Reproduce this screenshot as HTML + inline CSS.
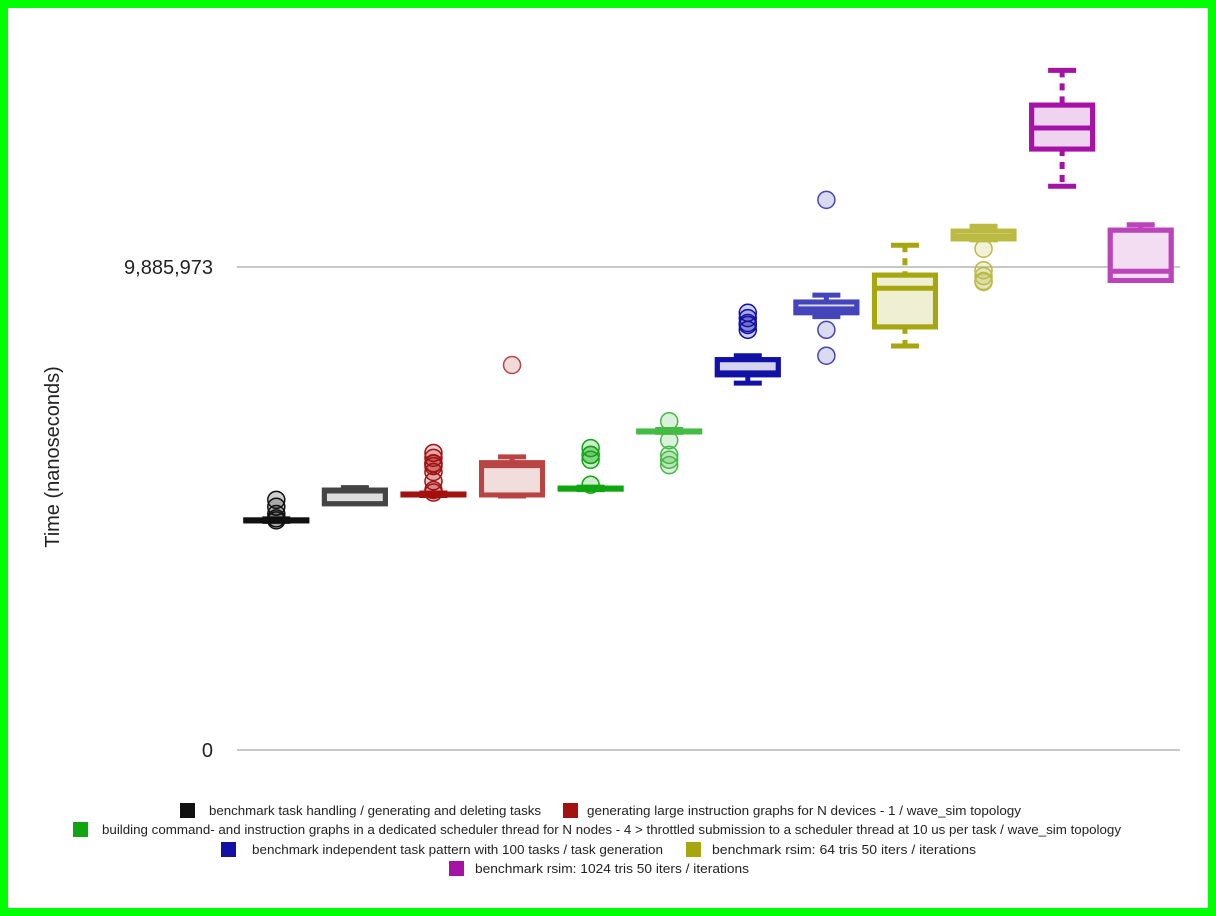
<!DOCTYPE html>
<html><head><meta charset="utf-8"><style>
html,body{margin:0;padding:0;background:#fff}
svg{display:block;font-family:"Liberation Sans",sans-serif}
</style></head><body>
<svg id="chart" width="1216" height="916" viewBox="0 0 1216 916">
<rect x="4" y="4" width="1208" height="908" fill="#fff" stroke="#00ff00" stroke-width="8"/>
<line x1="237" y1="267" x2="1180" y2="267" stroke="#b5b5b5" stroke-width="1.5"/>
<line x1="237" y1="750" x2="1180" y2="750" stroke="#b5b5b5" stroke-width="1.5"/>
<text x="213" y="274" text-anchor="end" font-size="20" fill="#222">9,885,973</text>
<text x="213" y="757" text-anchor="end" font-size="20" fill="#222">0</text>
<text transform="translate(59,457) rotate(-90)" text-anchor="middle" font-size="20" fill="#222">Time (nanoseconds)</text>
<g id="marks"></g>
<g id="legend"></g>
</svg>
<script>
const K = 20468; // ns per pixel at reading
const categories = ["s0","s1","s2","s3","s4","s5","s6","s7","s8","s9","s10","s11"];
const colors = ["#111111","#444444","#a31111","#b94444","#11a611","#44bb44","#1111a6","#4444bb","#a6a611","#bbbb44","#a611a6","#bb44bb"];
const whiskerLow = [4680000,5080000,5210000,5200000,5330000,6500000,7510000,8870000,8270000,10440000,11540000,9610000];
const q1Values   = [4690000,5040000,5220000,5220000,5340000,6510000,7680000,8950000,8660000,10460000,12300000,9610000];
const medianValues=[4700000,5300000,5230000,5820000,5350000,6520000,7720000,9030000,9450000,10510000,12730000,9800000];
const q3Values   = [4710000,5320000,5240000,5880000,5360000,6530000,7990000,9170000,9720000,10620000,13200000,10640000];
const whiskerHigh= [4730000,5370000,5260000,6000000,5380000,6560000,8070000,9310000,10330000,10720000,13910000,10750000];
const outliers = [
  [5120000,4980000,4830000,4740000,4700000],
  [],
  [6080000,5980000,5870000,5810000,5690000,5500000,5320000,5270000,5860000],
  [7880000],
  [6180000,6040000,6040000,5940000,5430000],
  [6730000,6340000,6040000,5940000,5830000],
  [8950000,8840000,8740000,8600000,8700000],
  [11260000,8600000,8070000],
  [],
  [10260000,9820000,9700000,9580000,9600000],
  [],
  []
];
const dashed = [false,false,false,false,false,false,false,false,true,false,true,false];
const legendLabels = ["benchmark task handling / generating and deleting tasks","generating large instruction graphs for N devices - 1 / wave_sim topology","building command- and instruction graphs in a dedicated scheduler thread for N nodes - 4 > throttled submission to a scheduler thread at 10 us per task / wave_sim topology","benchmark independent task pattern with  100 tasks / task generation","benchmark rsim:  64 tris  50 iters / iterations","benchmark rsim: 1024 tris  50 iters / iterations"];
const legendColors = ["#111111","#a31111","#11a611","#1111a6","#a6a611","#a611a6"];

const NS="http://www.w3.org/2000/svg";
const y0=750, y1=267, vmax=9885973;
function yScale(v){return y0-(v/vmax)*(y0-y1);}
function xScale(i){return 237+(i+0.5)*(943/categories.length);}
function mk(tag,attrs,parent){const e=document.createElementNS(NS,tag);for(const k in attrs)e.setAttribute(k,attrs[k]);parent.appendChild(e);return e;}
const marks=document.getElementById('marks');
categories.forEach((c,i)=>{
  const g=mk('g',{},marks);
  
  
  const cx=xScale(i), col=colors[i], bw=61, cw=28;
  const yl=yScale(whiskerLow[i]), yh=yScale(whiskerHigh[i]), yq1=yScale(q1Values[i]), yq3=yScale(q3Values[i]), ym=yScale(medianValues[i]);
  const wa={stroke:col,'stroke-width':5};
  if(dashed[i]) wa['stroke-dasharray']='7,6';
  const w1=mk('line',Object.assign({x1:cx,x2:cx,y1:yh,y2:yq3},wa),g);
  
  
  const w2=mk('line',Object.assign({x1:cx,x2:cx,y1:yq1,y2:yl},wa),g);
  
  
  const c1=mk('line',{x1:cx-cw/2,x2:cx+cw/2,y1:yh,y2:yh,stroke:col,'stroke-width':5},g);
  
  
  const c2=mk('line',{x1:cx-cw/2,x2:cx+cw/2,y1:yl,y2:yl,stroke:col,'stroke-width':5},g);
  
  
  const bg=mk('rect',{x:cx-bw/2,y:yq3,width:bw,height:Math.max(yq1-yq3,0.5),fill:'#fff',stroke:col,'stroke-width':5},g);
  const r=mk('rect',{x:cx-bw/2,y:yq3,width:bw,height:Math.max(yq1-yq3,0.5),fill:col,'fill-opacity':0.18,stroke:col,'stroke-width':5},g);
  
  
  const m=mk('line',{x1:cx-bw/2,x2:cx+bw/2,y1:ym,y2:ym,stroke:col,'stroke-width':5},g);
  
  
  outliers[i].forEach(v=>{
    const o=mk('circle',{cx:cx,cy:yScale(v),r:8.5,fill:col,'fill-opacity':0.2,stroke:col,'stroke-width':1.5},g);
    
    
  });
});
const legend=document.getElementById('legend');
const rows=[[0,1],[2],[3,4],[5]];
const rowY=[810,829,849,868];
const sqX=[[180,563],[73],[221,686],[449]];
const txX=[[209,587],[102],[252,712],[475]];
const txW=[[332,434],[1019],[411,264],[274]];
rows.forEach((row,ri)=>{
  row.forEach((li,j)=>{
    const g=mk('g',{},legend);
    
    
    mk('rect',{x:sqX[ri][j],y:rowY[ri]-7,width:15,height:15,fill:legendColors[li]},g);
    const t=mk('text',{x:txX[ri][j],y:rowY[ri]+5,'font-size':13,fill:'#222',textLength:txW[ri][j],lengthAdjust:'spacingAndGlyphs'},g);
    t.textContent=legendLabels[li];
  });
});
</script>
</body></html>
